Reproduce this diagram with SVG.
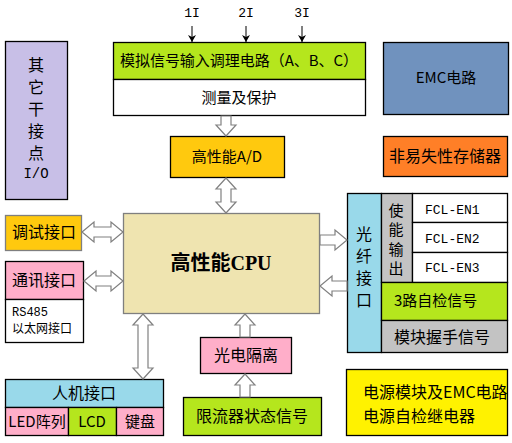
<svg xmlns="http://www.w3.org/2000/svg" width="512" height="443" viewBox="0 0 512 443">
<style>
.b{stroke:#000;stroke-width:1.3}
.g{stroke:#7f7f7f;stroke-width:1.3}
.t{font-family:"Noto Sans CJK SC","Noto Sans",sans-serif;font-size:15px;fill:#000}
.m{font-family:"Liberation Mono",monospace;font-size:13px;fill:#000}
.c{text-anchor:middle}
.ar{fill:#fff;stroke:#808080;stroke-width:1.2}
.sig{stroke:#000;stroke-width:1;fill:none}
</style>
<defs>
<marker id="ah" markerWidth="8" markerHeight="8" refX="7" refY="4" orient="auto" markerUnits="userSpaceOnUse">
<path d="M0,0 L7,4 L0,8 L2,4 Z" fill="#000"/>
</marker>
</defs>
<rect width="512" height="443" fill="#fff"/>

<g id="dryio">
<rect x="5.5" y="41.5" width="62" height="158" fill="#c8bfe7" class="b"/>
<text class="t c" x="36" y="71" style="font-size:16px">其</text>
<text class="t c" x="36" y="93" style="font-size:16px">它</text>
<text class="t c" x="36" y="115" style="font-size:16px">干</text>
<text class="t c" x="36" y="137" style="font-size:16px">接</text>
<text class="t c" x="36" y="159" style="font-size:16px">点</text>
<text class="m c" x="36" y="178" style="font-size:14px">I/O</text>
</g>

<g id="analog">
<rect x="113.5" y="42.5" width="252" height="37" fill="#b5e61d" class="b"/>
<rect x="113.5" y="79.5" width="252" height="36" fill="#fff" class="b"/>
<text class="t" x="120" y="66" textLength="238" lengthAdjust="spacing">模拟信号输入调理电路（A、B、C）</text>
<text class="t c" x="239" y="103">测量及保护</text>
</g>

<g id="inputs">
<text class="m c" x="192" y="17">1I</text>
<text class="m c" x="246" y="17">2I</text>
<text class="m c" x="302" y="17">3I</text>
</g>

<g id="emc">
<rect x="383.5" y="42.5" width="125" height="72" fill="#7092be" class="b"/>
<text class="t c" x="446" y="83">EMC电路</text>
</g>

<g id="nvram">
<rect x="383.5" y="136.5" width="124" height="40" fill="#ff7f27" class="b"/>
<text class="t c" x="445" y="162" style="font-size:16px">非易失性存储器</text>
</g>

<g id="ad">
<rect x="170.5" y="136.5" width="114" height="41" fill="#ffc90e" class="b"/>
<text class="t c" x="227" y="162">高性能A/D</text>
</g>

<g id="cpu">
<rect x="123.5" y="213.5" width="196" height="100" fill="#efe4b0" class="g"/>
<text x="221" y="270" text-anchor="middle" style="font-family:'Liberation Serif','Noto Sans CJK SC',serif;font-size:20px;font-weight:bold">高性能CPU</text>
</g>

<g id="debug">
<rect x="5.5" y="215.5" width="76" height="35" fill="#ffc90e" class="g"/>
<text class="t" x="12" y="238" style="font-size:16px">调试接口</text>
</g>

<g id="comm">
<rect x="5.5" y="261.5" width="78" height="38" fill="#ffaec9" class="b"/>
<rect x="5.5" y="299.5" width="78" height="43" fill="#fff" class="b"/>
<text class="t" x="12" y="286" style="font-size:16px">通讯接口</text>
<text class="m" x="12" y="316" style="font-size:12px">RS485</text>
<text class="t" x="12" y="333" style="font-size:12px">以太网接口</text>
</g>

<g id="fiber">
<rect x="347.5" y="193.5" width="34" height="159" fill="#99d9ea" class="b"/>
<text class="t c" x="364" y="240" style="font-size:16px">光</text>
<text class="t c" x="364" y="262" style="font-size:16px">纤</text>
<text class="t c" x="364" y="284" style="font-size:16px">接</text>
<text class="t c" x="364" y="306" style="font-size:16px">口</text>
</g>

<g id="enable">
<rect x="381.5" y="193.5" width="31" height="89" fill="#c3c3c3" class="b"/>
<text class="t c" x="396" y="216">使</text>
<text class="t c" x="396" y="235">能</text>
<text class="t c" x="396" y="255">输</text>
<text class="t c" x="396" y="274">出</text>
</g>

<g id="fcl">
<rect x="412.5" y="193.5" width="95" height="29" fill="#fff" class="b"/>
<rect x="412.5" y="222.5" width="95" height="30" fill="#fff" class="b"/>
<rect x="412.5" y="252.5" width="95" height="30" fill="#fff" class="b"/>
<text class="m" x="425" y="214">FCL-EN1</text>
<text class="m" x="425" y="243">FCL-EN2</text>
<text class="m" x="425" y="272">FCL-EN3</text>
</g>

<g id="selfcheck">
<rect x="381.5" y="282.5" width="126" height="38" fill="#b5e61d" class="b"/>
<text class="t" x="394" y="306">3路自检信号</text>
</g>

<g id="handshake">
<rect x="381.5" y="320.5" width="126" height="32" fill="#c3c3c3" class="b"/>
<text class="t" x="394" y="343" style="font-size:16px">模块握手信号</text>
</g>

<g id="power">
<rect x="346.5" y="369.5" width="161" height="66" fill="#fff200" class="b"/>
<text class="t" x="363" y="398" style="font-size:16px">电源模块及EMC电路</text>
<text class="t" x="363" y="422" style="font-size:16px">电源自检继电器</text>
</g>

<g id="hmi">
<rect x="5.5" y="379.5" width="158" height="28" fill="#99d9ea" class="b"/>
<rect x="5.5" y="407.5" width="63" height="28" fill="#ffaec9" class="b"/>
<rect x="68.5" y="407.5" width="48" height="28" fill="#b5e61d" class="b"/>
<rect x="116.5" y="407.5" width="47" height="28" fill="#ffaec9" class="b"/>
<text class="t c" x="84" y="399" style="font-size:16px">人机接口</text>
<text class="t c" x="37" y="427">LED阵列</text>
<text class="t c" x="92" y="427">LCD</text>
<text class="t c" x="140" y="427">键盘</text>
</g>

<g id="opto">
<rect x="200.5" y="337.5" width="91" height="36" fill="#ffaec9" class="b"/>
<text class="t c" x="246" y="361" style="font-size:16px">光电隔离</text>
</g>

<g id="limiter">
<rect x="183.5" y="397.5" width="138" height="38" fill="#b5e61d" class="b"/>
<text class="t c" x="252" y="422" style="font-size:16px">限流器状态信号</text>
</g>

<g id="connectors">
<line class="sig" x1="192" y1="26" x2="192" y2="42" marker-end="url(#ah)"/>
<line class="sig" x1="246" y1="26" x2="246" y2="42" marker-end="url(#ah)"/>
<line class="sig" x1="302" y1="26" x2="302" y2="42" marker-end="url(#ah)"/>
<polygon class="ar" points="221,116 231,116 231,125 236,125 226,136 216,125 221,125"/>
<polygon class="ar" points="226,178 236,189 231,189 231,202 236,202 226,213 216,202 221,202 221,189 216,189"/>
<polygon class="ar" points="82,232 94,222 94,227 111,227 111,222 123,232 111,242 111,237 94,237 94,242"/>
<polygon class="ar" points="84,281 96,271 96,276 111,276 111,271 123,281 111,291 111,286 96,286 96,291"/>
<polygon class="ar" points="143,314 153,325 148,325 148,368 153,368 143,379 133,368 138,368 138,325 133,325"/>
<polygon class="ar" points="320,235 335,235 335,230 347,240 335,250 335,245 320,245"/>
<polygon class="ar" points="347,281 332,281 332,276 320,286 332,296 332,291 347,291"/>
<polygon class="ar" points="240,337 240,325 235,325 245,314 255,325 250,325 250,337"/>
<polygon class="ar" points="240,397 240,385 235,385 245,374 255,385 250,385 250,397"/>
</g>
</svg>
